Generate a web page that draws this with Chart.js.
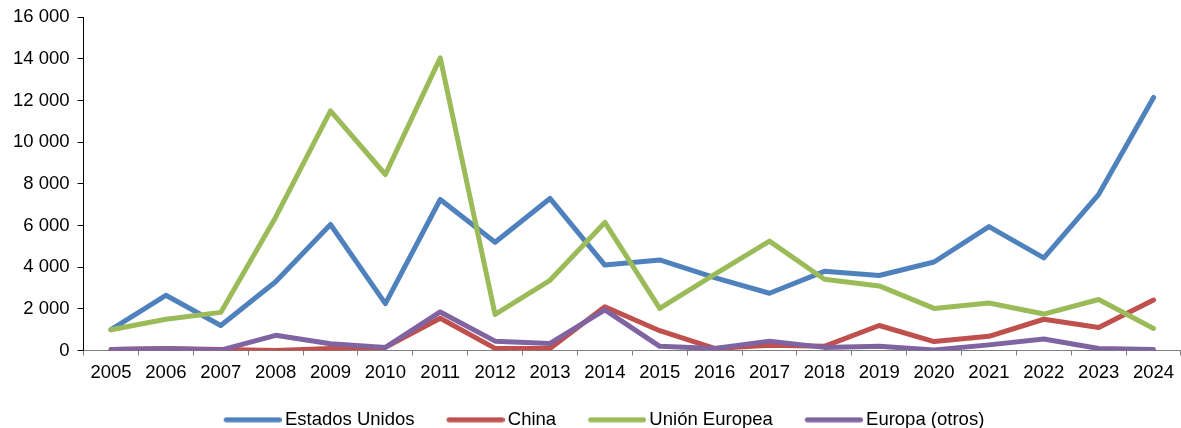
<!DOCTYPE html>
<html>
<head>
<meta charset="utf-8">
<script src="https://cdn.jsdelivr.net/npm/chart.js@4/dist/chart.umd.min.js"></script>
<style>
  html, body { margin: 0; padding: 0; background: #ffffff; }
  #wrap { width: 1181px; height: 428px; }
</style>
</head>
<body>
<div id="wrap"><canvas id="chart" width="1181" height="428"></canvas></div>
<script>
// Años del periodo
const years = ['2005','2006','2007','2008','2009','2010','2011','2012','2013','2014',
               '2015','2016','2017','2018','2019','2020','2021','2022','2023','2024'];

// Series por origen
const estadosUnidos = [1000, 2650, 1200, 3300, 6050, 2250, 7250, 5200, 7300, 4100,
                       4350, 3500, 2750, 3800, 3600, 4250, 5950, 4450, 7500, 12150];
const china         = [50, 100, 50, 0, 100, 150, 1550, 100, 100, 2100,
                       950, 100, 250, 200, 1200, 430, 680, 1500, 1100, 2420];
const unionEuropea  = [1000, 1500, 1830, 6400, 11500, 8450, 14050, 1730, 3370, 6150,
                       2020, 3650, 5250, 3420, 3100, 2020, 2280, 1750, 2450, 1060];
const europaOtros   = [50, 80, 20, 730, 320, 150, 1850, 450, 340, 1950,
                       200, 100, 450, 150, 200, 30, 270, 550, 100, 50];

const seriesNames = ['Estados Unidos', 'China', 'Unión Europea', 'Europa (otros)'];
const yTicks = [0, 2000, 4000, 6000, 8000, 10000, 12000, 14000, 16000];

const colors = ['#4F81BD', '#C0504D', '#9BBB59', '#8064A2'];
const values = [estadosUnidos, china, unionEuropea, europaOtros];
const drawOrder = [3, 2, 1, 0];

const FONT = "'Liberation Sans', Arial, sans-serif";
const FONT_SIZE = 18.5;

// Legend marker: a rounded bar at the right end of a transparent strip,
// so the bar sits just before its label.
const MARK_SLOT = 74;
const MARK_W = 86;
const BAR_W = 58;
const BAR_H = 5;
function legendMark(color) {
  const c = document.createElement('canvas');
  c.width = MARK_W;
  c.height = 6;
  const g = c.getContext('2d');
  g.strokeStyle = color;
  g.lineWidth = BAR_H;
  g.lineCap = 'round';
  g.beginPath();
  g.moveTo(MARK_W - BAR_W + BAR_H / 2, 3);
  g.lineTo(MARK_W - BAR_H / 2, 3);
  g.stroke();
  return c;
}

const fmt = v => String(v).replace(/\B(?=(\d{3})+(?!\d))/g, ' ');

new Chart(document.getElementById('chart'), {
  type: 'line',
  data: {
    labels: years,
    datasets: seriesNames.map((name, i) => ({
      label: name,
      data: values[i],
      borderColor: colors[i],
      backgroundColor: colors[i],
      borderWidth: 5,
      pointRadius: 0,
      pointHoverRadius: 0,
      tension: 0,
      borderCapStyle: 'round',
      borderJoinStyle: 'round',
      order: drawOrder[i],
      fill: false
    }))
  },
  options: {
    responsive: false,
    animation: false,
    devicePixelRatio: 1,
    layout: { padding: { left: 5, right: 0, top: 4, bottom: -11 } },
    plugins: {
      tooltip: { enabled: false },
      legend: {
        position: 'bottom',
        labels: {
          usePointStyle: true,
          pointStyleWidth: MARK_SLOT,
          boxHeight: 6,
          padding: 10,
          color: '#000000',
          font: { family: FONT, size: FONT_SIZE },
          generateLabels: chart => chart.data.datasets.map((ds, i) => ({
            text: ds.label,
            fillStyle: ds.borderColor,
            strokeStyle: ds.borderColor,
            lineWidth: 0,
            pointStyle: legendMark(ds.borderColor),
            datasetIndex: i,
            hidden: false
          }))
        }
      }
    },
    scales: {
      x: {
        offset: true,
        afterFit: scale => { scale.height = 50; },
        grid: {
          offset: true,
          drawOnChartArea: false,
          drawTicks: true,
          tickLength: 5,
          color: '#7f7f7f'
        },
        border: { color: '#7f7f7f', width: 1 },
        ticks: {
          color: '#000000',
          autoSkip: false,
          maxRotation: 0,
          padding: 6,
          font: { family: FONT, size: FONT_SIZE }
        }
      },
      y: {
        min: 0,
        max: 16000,
        afterBuildTicks: axis => { axis.ticks = yTicks.map(v => ({ value: v })); },
        grid: {
          drawOnChartArea: false,
          drawTicks: true,
          tickLength: 6,
          color: '#000000'
        },
        border: { color: '#000000', width: 1 },
        ticks: {
          color: '#000000',
          padding: 8,
          callback: v => fmt(v),
          font: { family: FONT, size: FONT_SIZE, lineHeight: 1 }
        }
      }
    }
  }
});
</script>
</body>
</html>
